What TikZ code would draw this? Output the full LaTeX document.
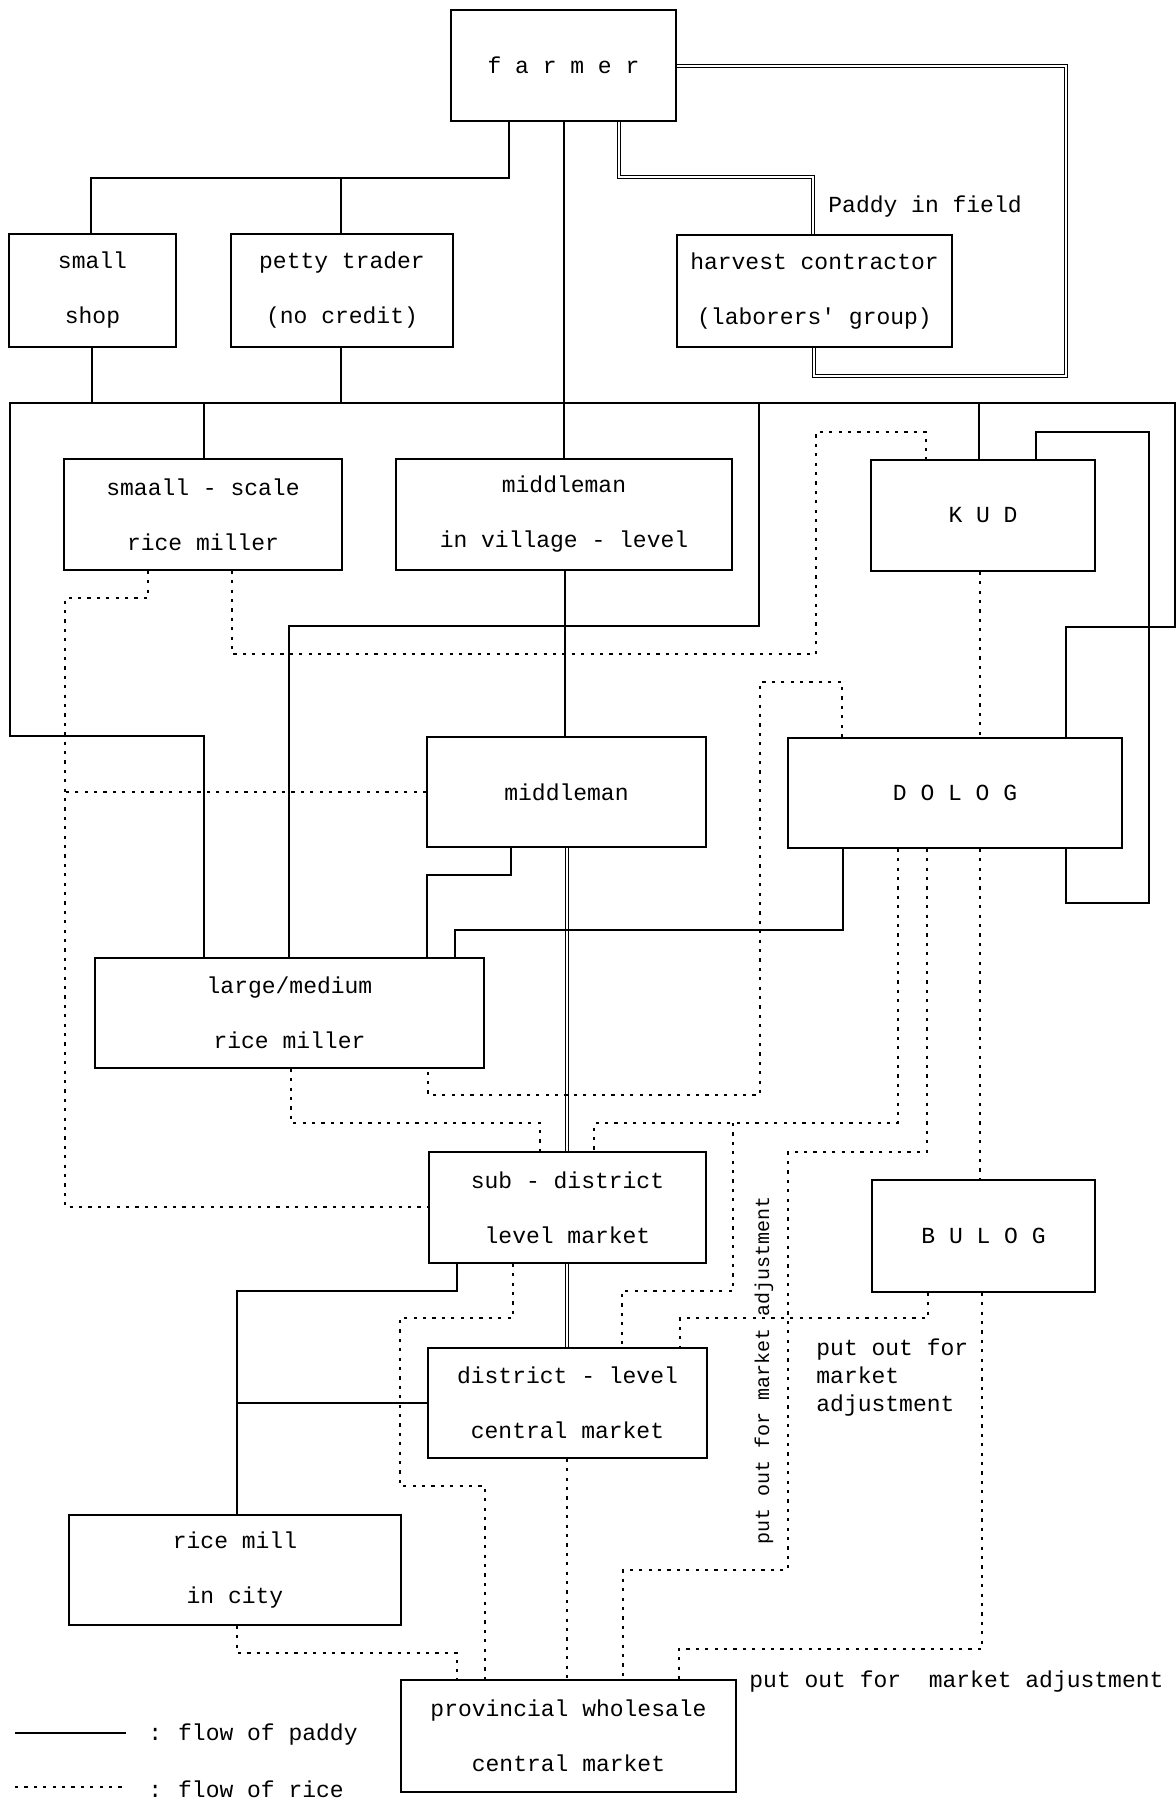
\documentclass[tikz,border=0pt]{standalone}
\usepackage{fontspec}
\newfontfamily\dgmono{Liberation Mono}
\newcommand{\dgboxfont}{\dgmono\fontsize{11.5pt}{27.5pt}\selectfont}
\newcommand{\dglblfont}{\dgmono\fontsize{11.5pt}{14pt}\selectfont}
\begin{document}
\begin{tikzpicture}[x=0.5pt,y=-0.5pt,
  box/.style={draw, line width=0.8pt, inner sep=0pt, align=center, font=\dgboxfont},
  paddy/.style={line width=0.8pt},
  rice/.style={line width=1pt, dash pattern=on 1.6pt off 3.1pt},
  dbl/.style={double, line width=0.55pt, double distance=1.2pt},
  lbl/.style={inner sep=0pt, font=\dglblfont}]
\fill[white] (0,0) rectangle (1176,1813);
\useasboundingbox (0,0) rectangle (1176,1813);

% nodes
\node[box, minimum width=112.5pt, minimum height=55.5pt] (farmer) at (563.5,65.5) {f a r m e r};
\node[box, minimum width=83.5pt, minimum height=56.5pt] (small) at (92.5,290.5) {small\\shop};
\node[box, minimum width=111pt, minimum height=56.5pt] (petty) at (342,290.5) {petty trader\\(no credit)};
\node[box, minimum width=137.5pt, minimum height=56pt] (harvest) at (814.5,291) {harvest contractor\\(laborers' group)};
\node[box, minimum width=139pt, minimum height=55.5pt] (smaall) at (203,514.5) {smaall - scale\\rice miller};
\node[box, minimum width=168pt, minimum height=55.5pt] (midvil) at (564,514.5) {middleman\\in village - level};
\node[box, minimum width=112pt, minimum height=55.5pt] (kud) at (983,515.5) {K U D};
\node[box, minimum width=139.5pt, minimum height=55pt] (middle) at (566.5,792) {middleman};
\node[box, minimum width=167pt, minimum height=55pt] (dolog) at (955,793) {D O L O G};
\node[box, minimum width=194.5pt, minimum height=55pt] (large) at (289.5,1013) {large/medium\\rice miller};
\node[box, minimum width=138.5pt, minimum height=55.5pt] (subd) at (567.5,1207.5) {sub - district\\level market};
\node[box, minimum width=111.5pt, minimum height=56pt] (bulog) at (983.5,1236) {B U L O G};
\node[box, minimum width=139.5pt, minimum height=55pt] (district) at (567.5,1403) {district - level\\central market};
\node[box, minimum width=166pt, minimum height=55pt] (ricemill) at (235,1570) {rice mill\\in city};
\node[box, minimum width=167.5pt, minimum height=56pt] (prov) at (568.5,1736) {provincial wholesale\\central market};

% labels
\node[lbl, anchor=west] (paddyfield) at (828,207) {Paddy in field};
\node[lbl, anchor=west, align=left] (pom1) at (816,1378) {put out for\\market\\adjustment};
\node[lbl, rotate=90, font=\dgmono\fontsize{10pt}{12pt}\selectfont] (pom2) at (764,1370) {put out for market adjustment};
\node[lbl, anchor=west] (pom3) at (749,1682) {put out for~ market adjustment};

% paddy flows (solid)
\draw[paddy] (509,0 |- farmer.south) -- (509,178) -- (91,178) -- (91,0 |- small.north);
\draw[paddy] (341,178) -- (341,0 |- petty.north);
\draw[paddy] (564,0 |- farmer.south) -- (564,0 |- midvil.north);
\draw[dbl] (619,0 |- farmer.south) -- (619,177) -- (813,177) -- (813,0 |- harvest.north);
\draw[dbl] (farmer.east |- 0,66) -- (1066,66) -- (1066,376) -- (814,376) -- (814,0 |- harvest.south);
\draw[paddy] (92,0 |- small.south) -- (92,403);
\draw[paddy] (341,0 |- petty.south) -- (341,403);
\draw[paddy] (1066,0 |- dolog.north) -- (1066,627) -- (1175,627) -- (1175,403) -- (10,403) -- (10,736) -- (204,736) -- (204,0 |- large.north);
\draw[paddy] (204,403) -- (204,0 |- smaall.north);
\draw[paddy] (759,403) -- (759,626) -- (289,626) -- (289,0 |- large.north);
\draw[paddy] (979,403) -- (979,0 |- kud.north);
\draw[paddy] (1036,0 |- kud.north) -- (1036,432) -- (1149,432) -- (1149,903) -- (1066,903) -- (1066,0 |- dolog.south);
\draw[paddy] (565,0 |- midvil.south) -- (565,0 |- middle.north);
\draw[dbl] (567,0 |- middle.south) -- (567,0 |- subd.north);
\draw[dbl] (567,0 |- subd.south) -- (567,0 |- district.north);
\draw[paddy] (511,0 |- middle.south) -- (511,875) -- (427,875) -- (427,0 |- large.north);
\draw[paddy] (843,0 |- dolog.south) -- (843,930) -- (455,930) -- (455,0 |- large.north);
\draw[paddy] (457,0 |- subd.south) -- (457,1291) -- (237,1291) -- (237,0 |- ricemill.north);
\draw[paddy] (237,0 |- district.west) -- (district.west);

% rice flows (dotted)
\draw[rice] (148,0 |- smaall.south) -- (148,598) -- (65,598) -- (65,1207) -- (subd.west |- 0,1207);
\draw[rice] (232,0 |- smaall.south) -- (232,654) -- (816,654) -- (816,432) -- (926,432) -- (926,0 |- kud.north);
\draw[rice] (middle.west) -- (65,0 |- middle.west);
\draw[rice] (842,0 |- dolog.north) -- (842,682) -- (760,682) -- (760,1095) -- (428,1095) -- (428,0 |- large.south);
\draw[rice] (980,0 |- kud.south) -- (980,0 |- dolog.north);
\draw[rice] (980,0 |- dolog.south) -- (980,0 |- bulog.north);
\draw[rice] (291,0 |- large.south) -- (291,1123) -- (540,1123) -- (540,0 |- subd.north);
\draw[rice] (898,0 |- dolog.south) -- (898,1123) -- (594,1123) -- (594,0 |- subd.north);
\draw[rice] (733,1123) -- (733,1291) -- (622,1291) -- (622,0 |- district.north);
\draw[rice] (927,0 |- dolog.south) -- (927,1152) -- (788,1152) -- (788,1570) -- (623,1570) -- (623,0 |- prov.north);
\draw[rice] (928,0 |- bulog.south) -- (928,1318) -- (680,1318) -- (680,0 |- district.north);
\draw[rice] (982,0 |- bulog.south) -- (982,1649) -- (679,1649) -- (679,0 |- prov.north);
\draw[rice] (513,0 |- subd.south) -- (513,1318) -- (400,1318) -- (400,1486) -- (485,1486) -- (485,0 |- prov.north);
\draw[rice] (567,0 |- district.south) -- (567,0 |- prov.north);
\draw[rice] (237,0 |- ricemill.south) -- (237,1653) -- (457,1653) -- (457,0 |- prov.north);

% legend
\coordinate (la) at (15,1733);
\coordinate (lb) at (126,1733);
\draw[paddy] (la) -- (lb);
\node[lbl, anchor=west] (leg1) at (148,1735) {:\hspace{8pt}flow of paddy};
\coordinate (lc) at (15,1787);
\coordinate (ld) at (126,1787);
\draw[rice] (lc) -- (ld);
\node[lbl, anchor=west] (leg2) at (148,1789) {:\hspace{8pt}flow of rice};
\end{tikzpicture}
\end{document}
